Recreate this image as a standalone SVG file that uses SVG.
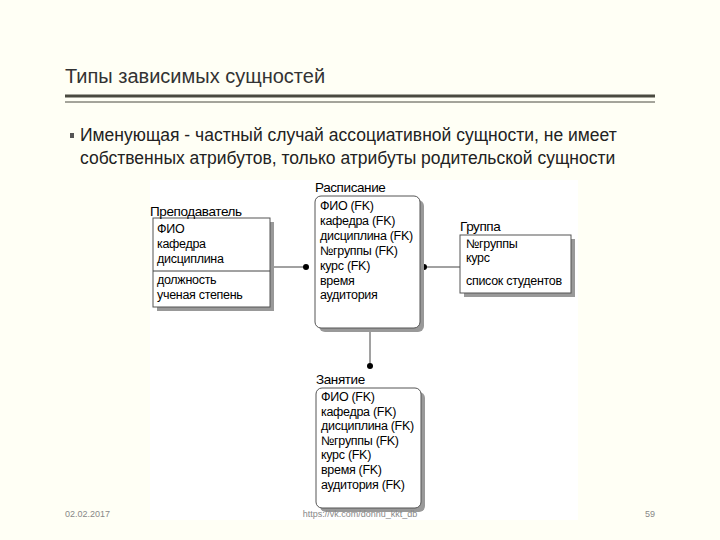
<svg xmlns="http://www.w3.org/2000/svg" width="720" height="540" viewBox="0 0 720 540">
<style>
text{font-family:"Liberation Sans",Arial,sans-serif;fill:#000}
.h{font-size:20px;fill:#333}
.b{font-size:17.5px;fill:#222}
.t{font-size:13.5px;letter-spacing:-0.4px}
.r{font-size:12.5px;letter-spacing:-0.3px}
.box{fill:#fff;stroke:#555;stroke-width:1}
.sh{fill:#999}
.ln{stroke:#444;stroke-width:1;fill:none}
.f{font-size:9px;fill:#888}
</style>
<rect width="720" height="540" fill="#fffff5"/>
<text x="65" y="83" class="h">Типы зависимых сущностей</text>
<line x1="65" y1="96" x2="655" y2="96" stroke="#4a4a40" stroke-width="3"/>
<line x1="65" y1="102" x2="655" y2="102" stroke="#4a4a40" stroke-width="1"/>
<rect x="70" y="133" width="4" height="5" fill="#555"/>
<text x="80" y="141" class="b">Именующая - частный случай ассоциативной сущности, не имеет</text>
<text x="80" y="164" class="b">собственных атрибутов, только атрибуты родительской сущности</text>
<rect x="150" y="180" width="428" height="340" fill="#fff"/>
<g id="connectors">
<line class="ln" x1="270" y1="267" x2="305" y2="267"/>
<line class="ln" x1="424" y1="267" x2="460" y2="267"/>
<line class="ln" x1="370" y1="328" x2="370" y2="366"/>
<circle cx="306" cy="267" r="3" fill="#000"/>
<circle cx="424" cy="267" r="3" fill="#000"/>
<circle cx="370" cy="366" r="3" fill="#000"/>
</g>
<g id="prepod">
<rect class="sh" x="157" y="222" width="117" height="89"/>
<rect class="box" x="153" y="218" width="117" height="89"/>
<line class="ln" x1="153" y1="271" x2="270" y2="271"/>
<text x="150" y="216" class="t">Преподаватель</text>
<text x="157" y="233" class="r">ФИО</text>
<text x="157" y="248" class="r">кафедра</text>
<text x="157" y="263" class="r">дисциплина</text>
<text x="157" y="284" class="r">должность</text>
<text x="157" y="299" class="r">ученая степень</text>
</g>
<g id="raspisanie">
<rect class="sh" x="319" y="200" width="105" height="132" rx="6"/>
<rect class="box" x="315" y="196" width="105" height="132" rx="6"/>
<text x="315" y="192" class="t">Расписание</text>
<text x="320" y="210" class="r">ФИО (FK)</text>
<text x="320" y="225" class="r">кафедра (FK)</text>
<text x="320" y="240" class="r">дисциплина (FK)</text>
<text x="320" y="255" class="r">№группы (FK)</text>
<text x="320" y="270" class="r">курс (FK)</text>
<text x="320" y="285" class="r">время</text>
<text x="320" y="299" class="r">аудитория</text>
</g>
<g id="gruppa">
<rect class="sh" x="464" y="239" width="111" height="58"/>
<rect class="box" x="460" y="235" width="111" height="58"/>
<text x="460" y="231" class="t">Группа</text>
<text x="466" y="248" class="r">№группы</text>
<text x="466" y="262" class="r">курс</text>
<text x="466" y="285" class="r">список студентов</text>
</g>
<g id="zanyatie">
<rect class="sh" x="320" y="392" width="105" height="120" rx="6"/>
<rect class="box" x="316" y="388" width="105" height="120" rx="6"/>
<text x="316" y="384" class="t">Занятие</text>
<text x="321" y="401" class="r">ФИО (FK)</text>
<text x="321" y="416" class="r">кафедра (FK)</text>
<text x="321" y="430" class="r">дисциплина (FK)</text>
<text x="321" y="445" class="r">№группы (FK)</text>
<text x="321" y="459" class="r">курс (FK)</text>
<text x="321" y="474" class="r">время (FK)</text>
<text x="321" y="489" class="r">аудитория (FK)</text>
</g>
<text x="65" y="517" class="f">02.02.2017</text>
<text x="360" y="517" class="f" text-anchor="middle">https://vk.com/donnu_kkt_db</text>
<text x="655" y="517" class="f" text-anchor="end">59</text>
</svg>
